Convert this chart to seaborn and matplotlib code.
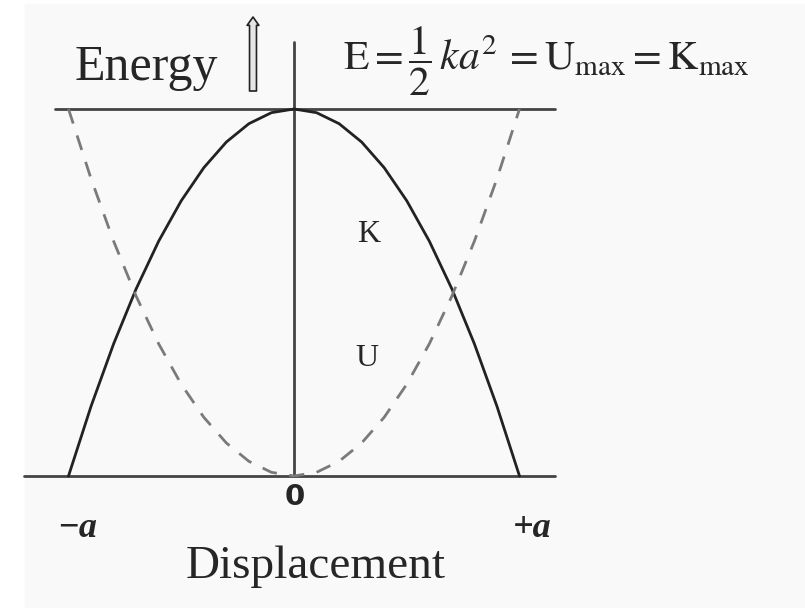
import numpy as np
import pandas as pd
import matplotlib
matplotlib.use("Agg")
import matplotlib.pyplot as plt
import seaborn as sns
from matplotlib.patches import Rectangle

# displacement in units of the amplitude a, energies in units of E
displacement = [-1.0, -0.9, -0.8, -0.7, -0.6, -0.5, -0.4, -0.3, -0.2, -0.1, 0.0,
                0.1, 0.2, 0.3, 0.4, 0.5, 0.6, 0.7, 0.8, 0.9, 1.0]
kinetic = [0.0, 0.19, 0.36, 0.51, 0.64, 0.75, 0.84, 0.91, 0.96, 0.99, 1.0,
           0.99, 0.96, 0.91, 0.84, 0.75, 0.64, 0.51, 0.36, 0.19, 0.0]
potential = [1.0, 0.81, 0.64, 0.49, 0.36, 0.25, 0.16, 0.09, 0.04, 0.01, 0.0,
             0.01, 0.04, 0.09, 0.16, 0.25, 0.36, 0.49, 0.64, 0.81, 1.0]
total_energy = 1.0

df = pd.DataFrame({"x": displacement, "K": kinetic, "U": potential})

sns.set_style("white")
plt.rcParams['mathtext.fontset'] = 'stix'
serif = ['Liberation Serif', 'DejaVu Serif']

W, H = 805, 608
fig = plt.figure(figsize=(W / 100, H / 100), dpi=100)
fig.patch.set_facecolor('white')
fig.patches.append(Rectangle((25 / W, 0), 1, 1 - 4 / H, transform=fig.transFigure,
                             color='#f9f9f9', zorder=-10))
ax = fig.add_axes([0, 0, 1, 1])
ax.set_facecolor('none')

# pixel layout: x=-a..+a -> 67..518 px, y=0..E -> 476..108 px
x0, sx = 294, 225.5
y0, sy = 476, 367
ax.set_xlim((0 - x0) / sx, (W - x0) / sx)
ax.set_ylim((y0 - H) / sy, y0 / sy)
ax.axis('off')

def fx(px):
    return (px - x0) / sx

def fy(py):
    return (y0 - py) / sy

# axes and total-energy line
ax.plot([fx(24), fx(555)], [0, 0], color='#444444', lw=2, zorder=2)
ax.plot([0, 0], [0, fy(42)], color='#444444', lw=2, zorder=2)
ax.plot([fx(55), fx(555)], [total_energy, total_energy], color='#444444', lw=2, zorder=2)

sns.lineplot(data=df, x='x', y='K', ax=ax, color='#222222', lw=2, sort=False, zorder=3)
sns.lineplot(data=df, x='x', y='U', ax=ax, color='#7a7a7a', lw=2, sort=False,
             linestyle=(0, (5.5, 4.5)), zorder=3)

def t(px, py, s, **kw):
    fig.text(px / W, 1 - py / H, s, **kw)

t(75, 80, 'Energy', family=serif, fontsize=36, va='baseline', ha='left')
ax.annotate('', xy=(fx(253), fy(17)), xytext=(fx(253), fy(91)),
            arrowprops=dict(arrowstyle='simple,head_width=0.85,head_length=0.6,tail_width=0.5',
                            fc='#e6e6e6', ec='#222222', lw=1.2, shrinkA=0, shrinkB=0))
t(343, 71, r'$\mathrm{E}{=}\dfrac{1}{2}\,ka^2\,{=}\mathrm{U}_{\mathrm{max}}{=}\mathrm{K}_{\mathrm{max}}$',
  fontsize=30, va='baseline', ha='left')

t(369, 242, 'K', family=serif, fontsize=23, va='baseline', ha='center')
t(367, 366, 'U', family=serif, fontsize=23, va='baseline', ha='center')

t(295, 505, '0', family='DejaVu Sans', fontweight='bold', fontsize=21, va='baseline', ha='center')
t(77, 537, '\u2212a', family=serif, fontstyle='italic', fontweight='bold', fontsize=26,
  va='baseline', ha='center')
t(532, 537, '+a', family=serif, fontstyle='italic', fontweight='bold', fontsize=26,
  va='baseline', ha='center')
t(316, 578, 'Displacement', family=serif, fontsize=34, va='baseline', ha='center')

fig.savefig('out.png', dpi=100)
